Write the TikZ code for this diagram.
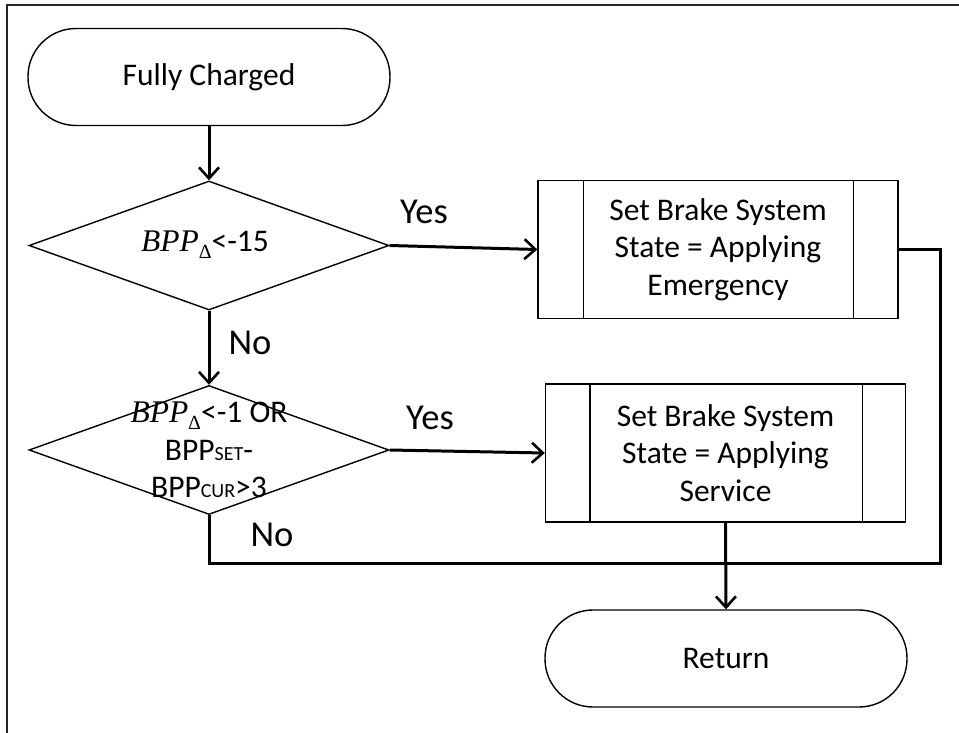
\documentclass[tikz,border=0pt]{standalone}
\usepackage{fontspec}
\setmainfont{Carlito}
\newfontfamily\varfont{Liberation Serif}
\usetikzlibrary{shapes.geometric,arrows.meta}

% variable names set like math italics, with a lowered Delta subscript
\newcommand{\bppdelta}{{\varfont\itshape BPP}\raisebox{-0.22em}{\fontsize{20}{20}\selectfont\varfont Δ}}
\newcommand{\smallsub}[1]{{\fontsize{20}{20}\selectfont #1}}

\begin{document}
\begin{tikzpicture}[x=1pt,y=-1pt,
  line join=miter,
  txt/.style={font=\fontsize{31.5}{37.5}\selectfont, align=center, text=black},
  lbl/.style={font=\fontsize{36.5}{40}\selectfont, text=black},
  terminal/.style={draw, line width=1.4pt, rounded corners=48pt,
    minimum width=362pt, minimum height=97pt, txt},
  decision/.style={draw, diamond, line width=1.4pt, inner sep=0pt,
    minimum width=360pt, minimum height=129pt},
  procbox/.style={draw, line width=1.4pt, minimum width=360pt,
    minimum height=138pt, inner sep=0pt, txt},
  flow/.style={line width=3pt, -{Straight Barb[length=11pt,width=20pt,line width=2.6pt]}},
  link/.style={line width=3pt}
]
\useasboundingbox (0,0) rectangle (959,733);

% page frame
\draw[line width=2pt, black!85] (6.5,733) -- (6.5,5) -- (959,5);

% nodes
\node[terminal] (start) at (209,77) {Fully Charged};
\node[decision] (d1) at (209,245.5) {};
\node[txt] at (205,245) {\bppdelta<-15};
\node[procbox] (p1) at (718,249.5) {Set Brake System\\State = Applying\\Emergency};
\draw[line width=1.4pt] ([xshift=46pt]p1.north west) -- ([xshift=46pt]p1.south west)
                        ([xshift=-45pt]p1.north east) -- ([xshift=-45pt]p1.south east);

\node[decision] (d2) at (209,450) {};
\node[txt] at (209,450) {\bppdelta<-1 OR\\BPP\smallsub{SET}-\\BPP\smallsub{CUR}>3};
\node[procbox] (p2) at (725.5,453) {Set Brake System\\State = Applying\\Service};
\draw[line width=1.4pt] ([xshift=45pt]p2.north west) -- ([xshift=45pt]p2.south west)
                        ([xshift=-44pt]p2.north east) -- ([xshift=-44pt]p2.south east);

\node[terminal] (ret) at (726,658.5) {Return};

% branch labels
\node[lbl] (y1) at (424,212) {Yes};
\node[lbl] (y2) at (430,418) {Yes};
\node[lbl] (n1) at (250,343) {No};
\node[lbl] (n2) at (272,535) {No};

% connectors
\coordinate (join) at (727,563);
\coordinate (rside) at (940,563);
\draw[flow] (start.south) -- (d1.north);
\draw[flow] (d1.east) -- (p1.west);
\draw[flow] (d1.south) -- (d2.north);
\draw[flow] (d2.east) -- (p2.west);
\draw[flow] (p2.south) -- (ret.north);
\draw[link] (p1.east) -| (rside) -- (join);
\draw[link] (d2.south) |- (join);
\end{tikzpicture}
\end{document}
